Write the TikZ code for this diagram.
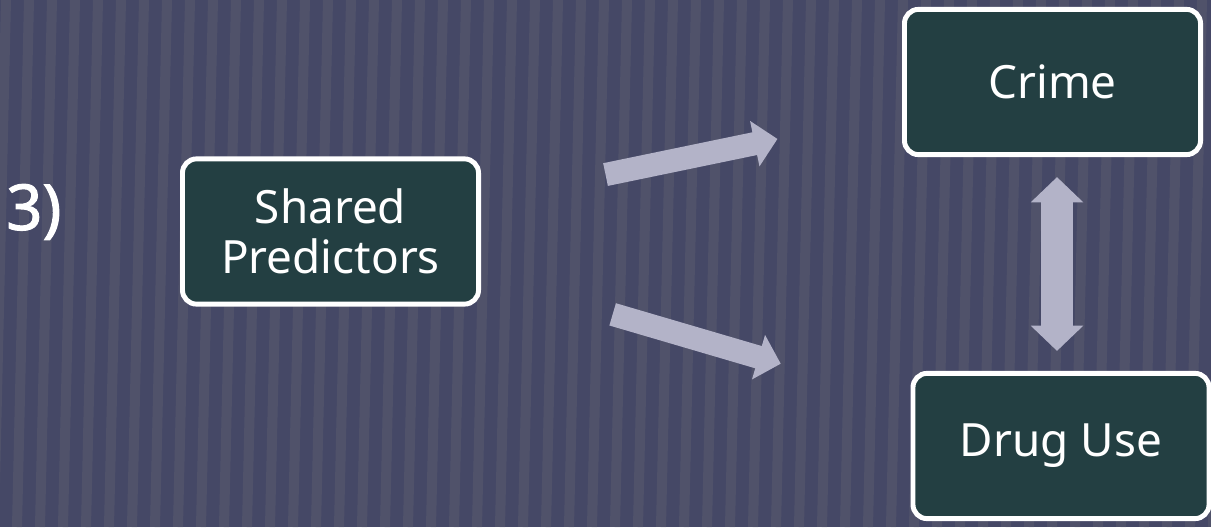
\documentclass[tikz,border=0pt]{standalone}
\usepackage{fontspec}
\setmainfont{Noto Sans}
\newfontfamily\numfont{Noto Sans}[FakeBold=1.6]
\usepackage{tikz}
\usetikzlibrary{arrows.meta,calc,positioning}
\definecolor{slate}{HTML}{454866}
\definecolor{stripe}{HTML}{5E6071}
\definecolor{boxteal}{HTML}{233F42}
\definecolor{lilac}{HTML}{B3B3C8}

\begin{document}
\begin{tikzpicture}[
  x=0.025cm, y=-0.025cm,
  box/.style={draw=white, line width=3.5pt, rounded corners=10pt, fill=boxteal, text=white, align=center,
    minimum width=7.4cm, minimum height=3.63cm, font=\fontsize{32.6pt}{35.4pt}\selectfont},
  arrow/.style={-{Triangle[width=1.125cm, length=0.58cm]}, line width=0.58cm, color=lilac},
  dblarrow/.style={{Triangle[width=1.275cm, length=0.63cm]}-{Triangle[width=1.275cm, length=0.63cm]}, line width=0.78cm, color=lilac}
]
\useasboundingbox (0,0) rectangle (1211,527);

% --- fondo a rayas ---------------------------------------------------------
\begin{scope}
  \clip (0,0) rectangle (1211,527);
  \fill[slate] (0,0) rectangle (1211,527);
  \foreach \x in {0,23,...,1250}
    \draw[stripe, line width=0.25cm, opacity=0.45] (\x+6,0) -- (\x-6,527);
\end{scope}

\node[text=white, font=\numfont\fontsize{45pt}{48pt}\selectfont, anchor=west, inner sep=0pt] (num) at (6,212) {3)};

\node[box] (pred)  at (330.5,231.5) {Shared\\Predictors};
\node[box] (crime) at (1052.5,82)   {Crime};
\node[box] (drug)  at (1061,446)    {Drug Use};

\draw[arrow, shorten <=7.02cm, shorten >=7.02cm] (pred.center) -- (crime.center);
\draw[arrow, shorten <=7.35cm, shorten >=7.3cm]  (pred.center) -- (drug.center);

\coordinate (mid) at (1057,0);
\draw[dblarrow, shorten <=0.5cm, shorten >=0.5cm] (crime.south -| mid) -- (drug.north -| mid);

\end{tikzpicture}
\end{document}
